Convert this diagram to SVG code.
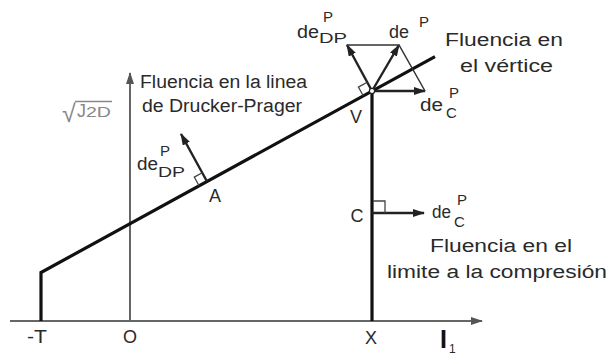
<svg xmlns="http://www.w3.org/2000/svg" width="613" height="356" viewBox="0 0 613 356">
<style>
text{font-family:"Liberation Sans",Arial,sans-serif;fill:#2a2a2a}
.lab{font-size:18px}
.sm{font-size:15px}
.axis{stroke:#666;stroke-width:2;fill:none}
.thick{stroke:#111;stroke-width:3.2;fill:none;stroke-linejoin:miter}
.arr{stroke:#222;stroke-width:2.4;fill:none}
.thin{stroke:#333;stroke-width:1.5;fill:none}
.sq{stroke:#444;stroke-width:1.3;fill:none}
</style>
<defs>
<marker id="ah" viewBox="0 0 12 8" refX="11" refY="4" markerWidth="12" markerHeight="8" markerUnits="userSpaceOnUse" orient="auto"><path d="M0,0 L12,4 L0,8 z" fill="#222"/></marker>
<marker id="ahg" viewBox="0 0 12 8" refX="11" refY="4" markerWidth="13" markerHeight="8" markerUnits="userSpaceOnUse" orient="auto"><path d="M0,0 L12,4 L0,8 z" fill="#555"/></marker>
</defs>
<g id="connectors">
<path class="axis" d="M10,321 L482,321" marker-end="url(#ahg)"/>
<path class="axis" d="M130,321 L130,73" marker-end="url(#ahg)"/>
<path class="thick" d="M41,321 L41,272.5 L435,56.6"/>
<path class="thick" d="M372,91 L372,321"/>
<path class="arr" d="M207,181.5 L181,134" marker-end="url(#ah)"/>
<path class="arr" d="M372,91 L347,45" marker-end="url(#ah)"/>
<path class="arr" d="M372,91 L399,45" marker-end="url(#ah)"/>
<path class="arr" d="M372,91 L425,91" marker-end="url(#ah)"/>
<path class="arr" d="M372,213 L424,213" marker-end="url(#ah)"/>
<path class="thin" d="M347,45 L399,45 L425,91"/>
<path class="sq" d="M199.1,185.8 L194.3,177.1 L202.2,172.7"/>
<path class="sq" d="M363.2,95.8 L358.4,87.1 L367.2,82.2"/>
<path class="sq" d="M373,201 L385,201 L385,213"/>
<circle cx="372" cy="91" r="2.6" fill="#fff" stroke="#222" stroke-width="1.2"/>
</g>
<g id="node-yaxis-label">
<text x="62" y="122" style="font-size:25px;fill:#888">√</text>
<line x1="75" y1="101.5" x2="112" y2="101.5" stroke="#888" stroke-width="1.4"/>
<text x="77" y="117" style="font-size:18px;fill:#888">J</text>
<text x="86" y="117" style="font-size:15px;fill:#888" textLength="25" lengthAdjust="spacingAndGlyphs">2D</text>
</g>
<g id="node-dp-label">
<text class="lab" x="140" y="88" textLength="167" lengthAdjust="spacingAndGlyphs">Fluencia en la linea</text>
<text class="lab" x="142" y="112" textLength="160" lengthAdjust="spacingAndGlyphs">de Drucker-Prager</text>
</g>
<g id="node-vertex-label">
<text class="lab" x="445" y="46" textLength="118" lengthAdjust="spacingAndGlyphs">Fluencia en</text>
<text class="lab" x="460" y="72" textLength="93" lengthAdjust="spacingAndGlyphs">el vértice</text>
</g>
<g id="node-comp-label">
<text class="lab" x="430" y="252" textLength="142" lengthAdjust="spacingAndGlyphs">Fluencia en el</text>
<text class="lab" x="387" y="278" textLength="220" lengthAdjust="spacingAndGlyphs">limite a la compresión</text>
</g>
<g id="node-dedp-top">
<text class="lab" x="297" y="38" textLength="22" lengthAdjust="spacingAndGlyphs">de</text>
<text class="sm" x="319" y="43" textLength="28" lengthAdjust="spacingAndGlyphs">DP</text>
<text class="sm" x="323" y="22">P</text>
</g>
<g id="node-dep-top">
<text class="lab" x="389" y="38" textLength="20" lengthAdjust="spacingAndGlyphs">de</text>
<text class="sm" x="419" y="27">P</text>
</g>
<g id="node-dec-v">
<text class="lab" x="420" y="111" textLength="23" lengthAdjust="spacingAndGlyphs">de</text>
<text class="sm" x="446" y="118">C</text>
<text class="sm" x="449" y="98">P</text>
</g>
<g id="node-dedp-a">
<text class="lab" x="137" y="170" textLength="21" lengthAdjust="spacingAndGlyphs">de</text>
<text class="sm" x="158" y="177" textLength="27" lengthAdjust="spacingAndGlyphs">DP</text>
<text class="sm" x="160" y="156">P</text>
</g>
<g id="node-dec-c">
<text class="lab" x="432" y="218" textLength="19" lengthAdjust="spacingAndGlyphs">de</text>
<text class="sm" x="454" y="227">C</text>
<text class="sm" x="457" y="205">P</text>
</g>
<g id="node-V"><text class="lab" x="356" y="123" text-anchor="middle">V</text></g>
<g id="node-A"><text class="lab" x="215" y="202" text-anchor="middle">A</text></g>
<g id="node-C"><text class="lab" x="357" y="222" text-anchor="middle">C</text></g>
<g id="node-T"><text class="lab" x="27" y="343" textLength="20" lengthAdjust="spacingAndGlyphs">-T</text></g>
<g id="node-O"><text class="lab" x="130" y="343" text-anchor="middle">O</text></g>
<g id="node-X"><text class="lab" x="371" y="344" text-anchor="middle">X</text></g>
<g id="node-I1">
<text x="440" y="348" style="font-size:25px;font-weight:bold;fill:#111">I</text>
<text x="449" y="353" style="font-size:12px">1</text>
</g>
</svg>
